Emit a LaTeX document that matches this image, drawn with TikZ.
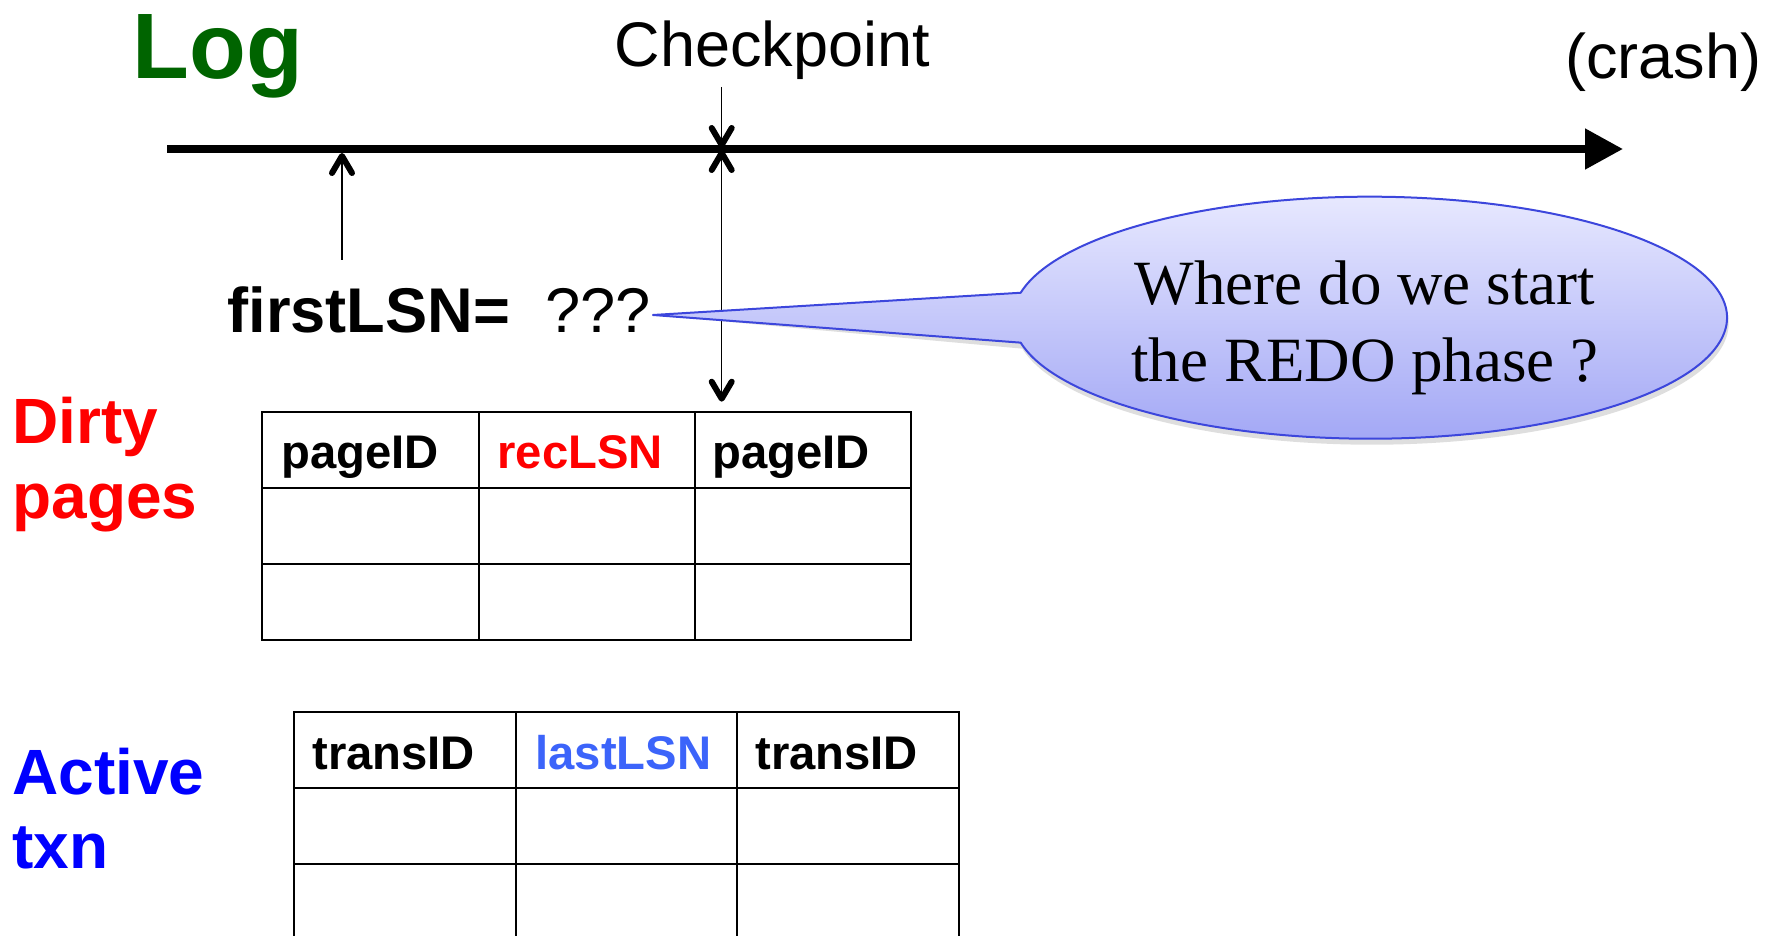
\documentclass[tikz,border=0pt]{standalone}
\usepackage{fontspec}
\setmainfont{Liberation Serif}
\setsansfont{Liberation Sans}
\usetikzlibrary{arrows.meta,shadows}

\definecolor{loggreen}{RGB}{0,100,0}
\definecolor{dirtyred}{RGB}{255,0,0}
\definecolor{txnblue}{RGB}{0,0,255}
\definecolor{lsnblue}{RGB}{60,100,250}
\definecolor{bubbleline}{RGB}{60,70,220}
\definecolor{bubbletop}{RGB}{234,235,255}
\definecolor{bubblebot}{RGB}{160,165,245}

\tikzset{
  barbtip/.tip={Straight Barb[length=8.5pt,width=10pt,line width=3pt 0 1,round]},
  bigtxt/.style={font=\sffamily\fontsize{31.5}{37.8}\selectfont, inner sep=0pt, anchor=base west},
  bigbold/.style={font=\sffamily\bfseries\fontsize{32}{38.4}\selectfont, inner sep=0pt, anchor=base west},
  hdr/.style={font=\sffamily\bfseries\fontsize{23.6}{28}\selectfont, inner sep=0pt, anchor=base west},
  bubbletxt/.style={font=\rmfamily\fontsize{31.5}{37.8}\selectfont, inner sep=0pt, anchor=base},
  tabline/.style={line width=1pt},
  pointer/.style={line width=0.75pt},
  timeline/.style={line width=4pt, -{Triangle[length=19pt,width=19.5pt]}},
}

\begin{document}
\begin{tikzpicture}[x=0.5pt,y=-0.5pt]
  \useasboundingbox (0,0) rectangle (1773,936);

  % titles
  \node[font=\sffamily\bfseries\fontsize{46.5}{55}\selectfont, text=loggreen,
        inner sep=0pt, anchor=base west] (log) at (132,79) {Log};
  \node[bigtxt] (ckpt) at (614.5,66.7) {Checkpoint};
  \node[bigtxt] (crash) at (1565,79) {(crash)};

  % the log timeline
  \coordinate (tlA) at (167,149);
  \coordinate (tlB) at (1623,149);
  \draw[timeline] (tlA) -- (tlB);

  % pointer to the first LSN
  \coordinate (flsnFoot) at (342,260);
  \coordinate (flsnTip) at (342,153);
  \draw[pointer, -barbtip] (flsnFoot) -- (flsnTip);

  % checkpoint pointers
  \coordinate (ckTop) at (721.7,87);
  \coordinate (ckOn) at (721.7,148);
  \coordinate (ckUnder) at (721.7,150);
  \coordinate (ckLow) at (721.7,401.7);
  \draw[pointer, -barbtip] (ckTop) -- (ckOn);
  \draw[pointer, barbtip-barbtip] (ckUnder) -- (ckLow);

  % firstLSN label
  \node[inner sep=0pt, anchor=base west,
        font=\sffamily\fontsize{31.6}{37.9}\selectfont] (flsn) at (227,333)
        {\textbf{firstLSN=}\ \ ???};

  % speech bubble
  \coordinate (bc) at (1370,317.7);
  \coordinate (btip) at (653,315);
  \path[fill=black, fill opacity=0.13, xshift=0.8pt, yshift=-3pt]
    (btip) -- ([shift={(bc)}]191.9:357 and 121)
    arc[start angle=191.9, end angle=528.1, x radius=357, y radius=121] -- cycle;
  \path[draw=bubbleline, line width=1pt, line join=round,
        top color=bubbletop, bottom color=bubblebot]
    (btip) -- ([shift={(bc)}]191.9:357 and 121)
    arc[start angle=191.9, end angle=528.1, x radius=357, y radius=121] -- cycle;
  \node[bubbletxt] (bubA) at (1365,305) {Where do we start};
  \node[bubbletxt] (bubB) at (1365,381) {the REDO phase ?};

  % dirty page table
  \node[bigbold, text=dirtyred] (dirtyA) at (12,444) {Dirty};
  \node[bigbold, text=dirtyred] (dirtyB) at (12,518) {pages};
  \draw[tabline] (262.3,411.5) rectangle (911.3,639.5);
  \foreach \x in {479.4,695.4} \draw[tabline] (\x,411.5) -- (\x,639.5);
  \foreach \y in {487.5,563.5} \draw[tabline] (262.3,\y) -- (911.3,\y);
  \node[hdr] (dpA) at (281,468.3) {pageID};
  \node[hdr, text=dirtyred] (dpB) at (497,468.3) {recLSN};
  \node[hdr] (dpC) at (712,468.3) {pageID};

  % active transaction table
  \node[bigbold, text=txnblue] (actA) at (12,794) {Active};
  \node[bigbold, text=txnblue] (actB) at (12,868) {txn};
  \draw[tabline] (294,936) -- (294,712.3) -- (958.8,712.3) -- (958.8,936);
  \foreach \x in {515.6,737.2} \draw[tabline] (\x,712.3) -- (\x,936);
  \foreach \y in {788,863.9} \draw[tabline] (294,\y) -- (958.8,\y);
  \node[hdr] (atA) at (312,769) {transID};
  \node[hdr, text=lsnblue] (atB) at (535,769) {lastLSN};
  \node[hdr] (atC) at (755,769) {transID};
\end{tikzpicture}
\end{document}
